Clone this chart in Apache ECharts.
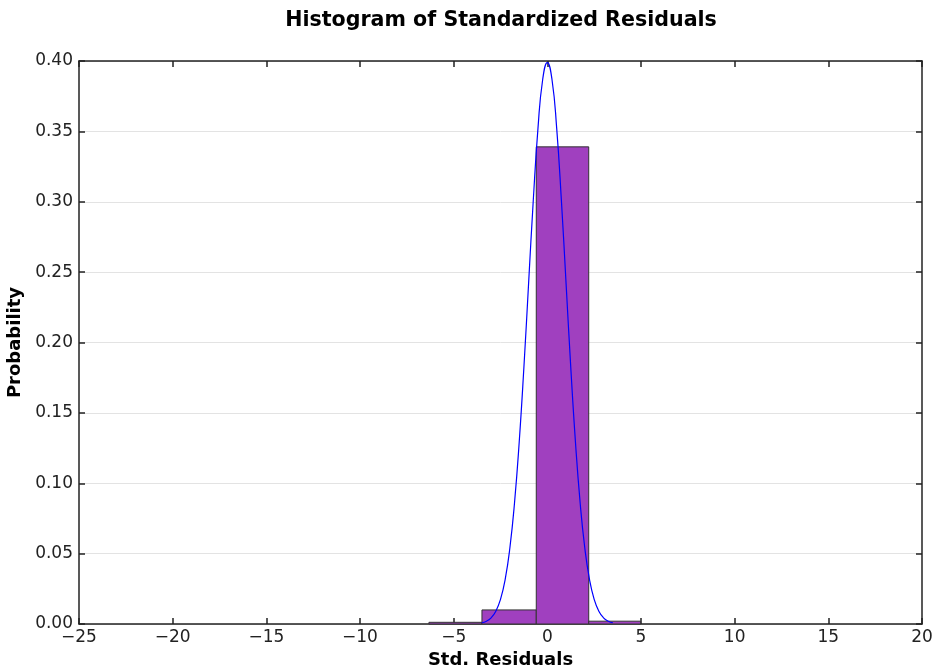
<!DOCTYPE html>
<html>
<head>
<meta charset="utf-8">
<script src="https://cdn.jsdelivr.net/npm/echarts@6/dist/echarts.min.js"></script>
<style>
  html, body { margin: 0; padding: 0; background: #fff; }
  #chart { width: 938px; height: 668px; }
</style>
</head>
<body>
<div id="chart"></div>
<script>
// histogram bins (edges) and their heights
const binEdges = [-6.32, -3.49, -0.59, 2.21, 4.98]
const binHeights = [0.0012, 0.0100, 0.3390, 0.0020]

// fitted normal curve, sampled points
const curveX = [-3.5, -3.25, -3.0, -2.75, -2.5, -2.25, -2.0, -1.75, -1.5, -1.25, -1.0, -0.75, -0.5, -0.25, 0,
  0.25, 0.5, 0.75, 1.0, 1.25, 1.5, 1.75, 2.0, 2.25, 2.5, 2.75, 3.0, 3.25, 3.5]
const curveY = [0.0009, 0.0020, 0.0044, 0.0091, 0.0175, 0.0317, 0.0540, 0.0863, 0.1295, 0.1826, 0.2420, 0.3011, 0.3521, 0.3867, 0.3989,
  0.3867, 0.3521, 0.3011, 0.2420, 0.1826, 0.1295, 0.0863, 0.0540, 0.0317, 0.0175, 0.0091, 0.0044, 0.0020, 0.0009]

const xMin = -25, xMax = 20, xStep = 5
const yMin = 0, yMax = 0.4, yStep = 0.05

const font = 'DejaVu Sans'
const chart = echarts.init(document.getElementById('chart'))

const bins = binHeights.map((h, i) => [binEdges[i], binEdges[i + 1], h])
const curve = curveX.map((x, i) => [x, curveY[i]])

const baseX = {
  type: 'value', min: xMin, max: xMax, interval: xStep,
  axisLine: { show: true, onZero: false, lineStyle: { color: '#222', width: 1.5 } },
  axisTick: { show: true, inside: true, length: 6, lineStyle: { color: '#222', width: 1.5 } },
  splitLine: { show: false }
}
const baseY = {
  type: 'value', min: yMin, max: yMax, interval: yStep,
  axisLine: { show: true, onZero: false, lineStyle: { color: '#222', width: 1.5 } },
  axisTick: { show: true, inside: true, length: 6, lineStyle: { color: '#222', width: 1.5 } }
}

chart.setOption({
  animation: false,
  title: {
    text: 'Histogram of Standardized Residuals',
    left: 496, top: 5, textAlign: 'center',
    textStyle: { fontFamily: font, fontSize: 20.6, fontWeight: 'bold', color: '#000' }
  },
  grid: { left: 79, right: 16, top: 61, bottom: 44, outerBoundsMode: 'none' },
  xAxis: [
    Object.assign({}, baseX, {
      position: 'bottom',
      name: 'Std. Residuals', nameLocation: 'middle', nameGap: 26,
      nameTextStyle: { fontFamily: font, fontSize: 18, fontWeight: 'bold', color: '#000' },
      axisLabel: {
        fontFamily: font, fontSize: 17, color: '#222', margin: 5,
        formatter: v => String(v).replace('-', '\u2212')
      }
    }),
    Object.assign({}, baseX, { position: 'top', axisLabel: { show: false } })
  ],
  yAxis: [
    Object.assign({}, baseY, {
      position: 'left',
      name: 'Probability', nameLocation: 'middle', nameGap: 52,
      nameTextStyle: { fontFamily: font, fontSize: 18, fontWeight: 'bold', color: '#000' },
      axisLabel: {
        fontFamily: font, fontSize: 17, color: '#222', margin: 6,
        formatter: v => v.toFixed(2)
      },
      splitLine: { show: true, lineStyle: { color: '#e3e3e3', width: 1 } }
    }),
    Object.assign({}, baseY, { position: 'right', axisLabel: { show: false }, splitLine: { show: false } })
  ],
  series: [
    {
      type: 'custom',
      xAxisIndex: 0, yAxisIndex: 0,
      data: bins,
      renderItem: (params, api) => {
        const p0 = api.coord([api.value(0), api.value(2)])
        const p1 = api.coord([api.value(1), 0])
        return {
          type: 'rect',
          shape: { x: p0[0], y: p0[1], width: p1[0] - p0[0], height: p1[1] - p0[1] },
          style: { fill: '#a040bf', stroke: '#333', lineWidth: 1 }
        }
      },
      z: 2
    },
    {
      type: 'line',
      xAxisIndex: 0, yAxisIndex: 0,
      data: curve,
      smooth: true,
      symbol: 'none',
      lineStyle: { color: '#0000ff', width: 1.2 },
      z: 3
    }
  ]
})
</script>
</body>
</html>
